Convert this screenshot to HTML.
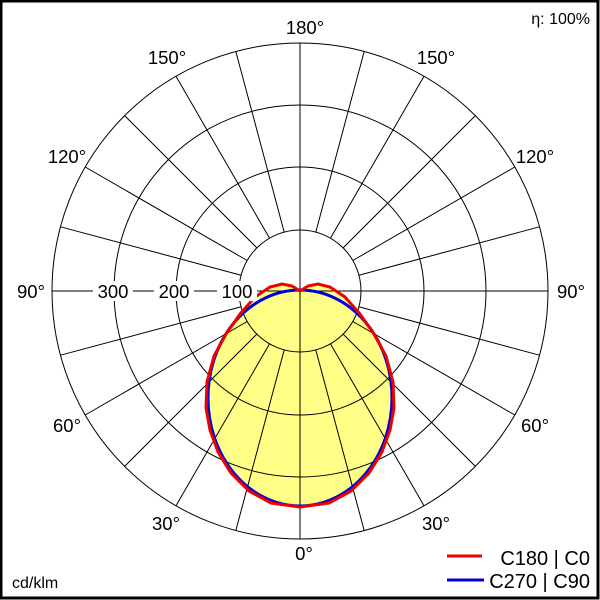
<!DOCTYPE html>
<html><head><style>body{margin:0;background:#fff}svg{display:block}text{font-family:"Liberation Sans",Arial,sans-serif;font-size:18.5px;fill:#000}</style></head>
<body>
<svg id="s" width="600" height="600" viewBox="0 0 600 600" xmlns="http://www.w3.org/2000/svg">
<rect x="1" y="1" width="597" height="597" fill="#fff" stroke="#000" stroke-width="3"/>
<polygon id="red" fill="#ffff88" stroke="none"/>
<ellipse cx="300" cy="398" rx="92" ry="108" fill="#ffff88"/>
<g id="grid" stroke="#000" stroke-width="1" fill="none">
<circle cx="300" cy="291" r="61"/><circle cx="300" cy="291" r="124"/><circle cx="300" cy="291" r="186"/><circle cx="300" cy="291" r="248"/>
<line x1="52" y1="291" x2="548" y2="291"/><line x1="300" y1="43" x2="300" y2="539"/>
</g>
<ellipse cx="300" cy="398" rx="92" ry="108" fill="none" stroke="#0000dd" stroke-width="3"/>
<polyline id="redl" fill="none" stroke="#ee0000" stroke-width="3"/>
<g text-anchor="middle">
<rect x="93" y="281" width="40" height="20" fill="#fff"/><text x="113" y="298">300</text>
<rect x="154" y="281" width="40" height="20" fill="#fff"/><text x="174" y="298">200</text>
<rect x="217" y="281" width="40" height="20" fill="#fff"/><text x="237" y="298">100</text>
<text x="305" y="34">180°</text><text x="304" y="560">0°</text>
<text x="31" y="298">90°</text><text x="571" y="298">90°</text>
<text x="67" y="163">120°</text><text x="535" y="163">120°</text>
<text x="167" y="64">150°</text><text x="436" y="64">150°</text>
<text x="67" y="432">60°</text><text x="535" y="432">60°</text>
<text x="166" y="530">30°</text><text x="436" y="530">30°</text>
</g>
<text x="12" y="588" style="font-size:16px">cd/klm</text>
<text x="590" y="24" text-anchor="end" style="font-size:16px">η: 100%</text>
<line x1="447" y1="556" x2="482" y2="556" stroke="#ee0000" stroke-width="3"/>
<line x1="447" y1="580" x2="484" y2="580" stroke="#0000dd" stroke-width="3"/>
<text x="590" y="565" text-anchor="end" style="font-size:20px">C180 | C0</text>
<text x="590" y="588" text-anchor="end" style="font-size:20px">C270 | C90</text>
</svg>
<script>
var g=document.getElementById('grid'),ns='http://www.w3.org/2000/svg';
for(var a=15;a<360;a+=15){if(a%90==0)continue;var r=a*Math.PI/180;var l=document.createElementNS(ns,'line');
l.setAttribute('x1',300+61*Math.sin(r));l.setAttribute('y1',291+61*Math.cos(r));l.setAttribute('x2',300+248*Math.sin(r));l.setAttribute('y2',291+248*Math.cos(r));g.appendChild(l);}
var R=[[300,291],[308,286],[318,284],[330,287],[345,297],[360,314],[374,334],[386,356],[393,382],[394,408],[390,430],[382,452],[369,473],[351,491],[329,503],[300,507]];
var pts=R.slice();for(var i=R.length-2;i>=0;i--)pts.push([600-R[i][0],R[i][1]]);
var s=pts.map(function(p){return p.join(',')}).join(' ');
document.getElementById('red').setAttribute('points',s);document.getElementById('redl').setAttribute('points',s);
</script>
</body></html>
